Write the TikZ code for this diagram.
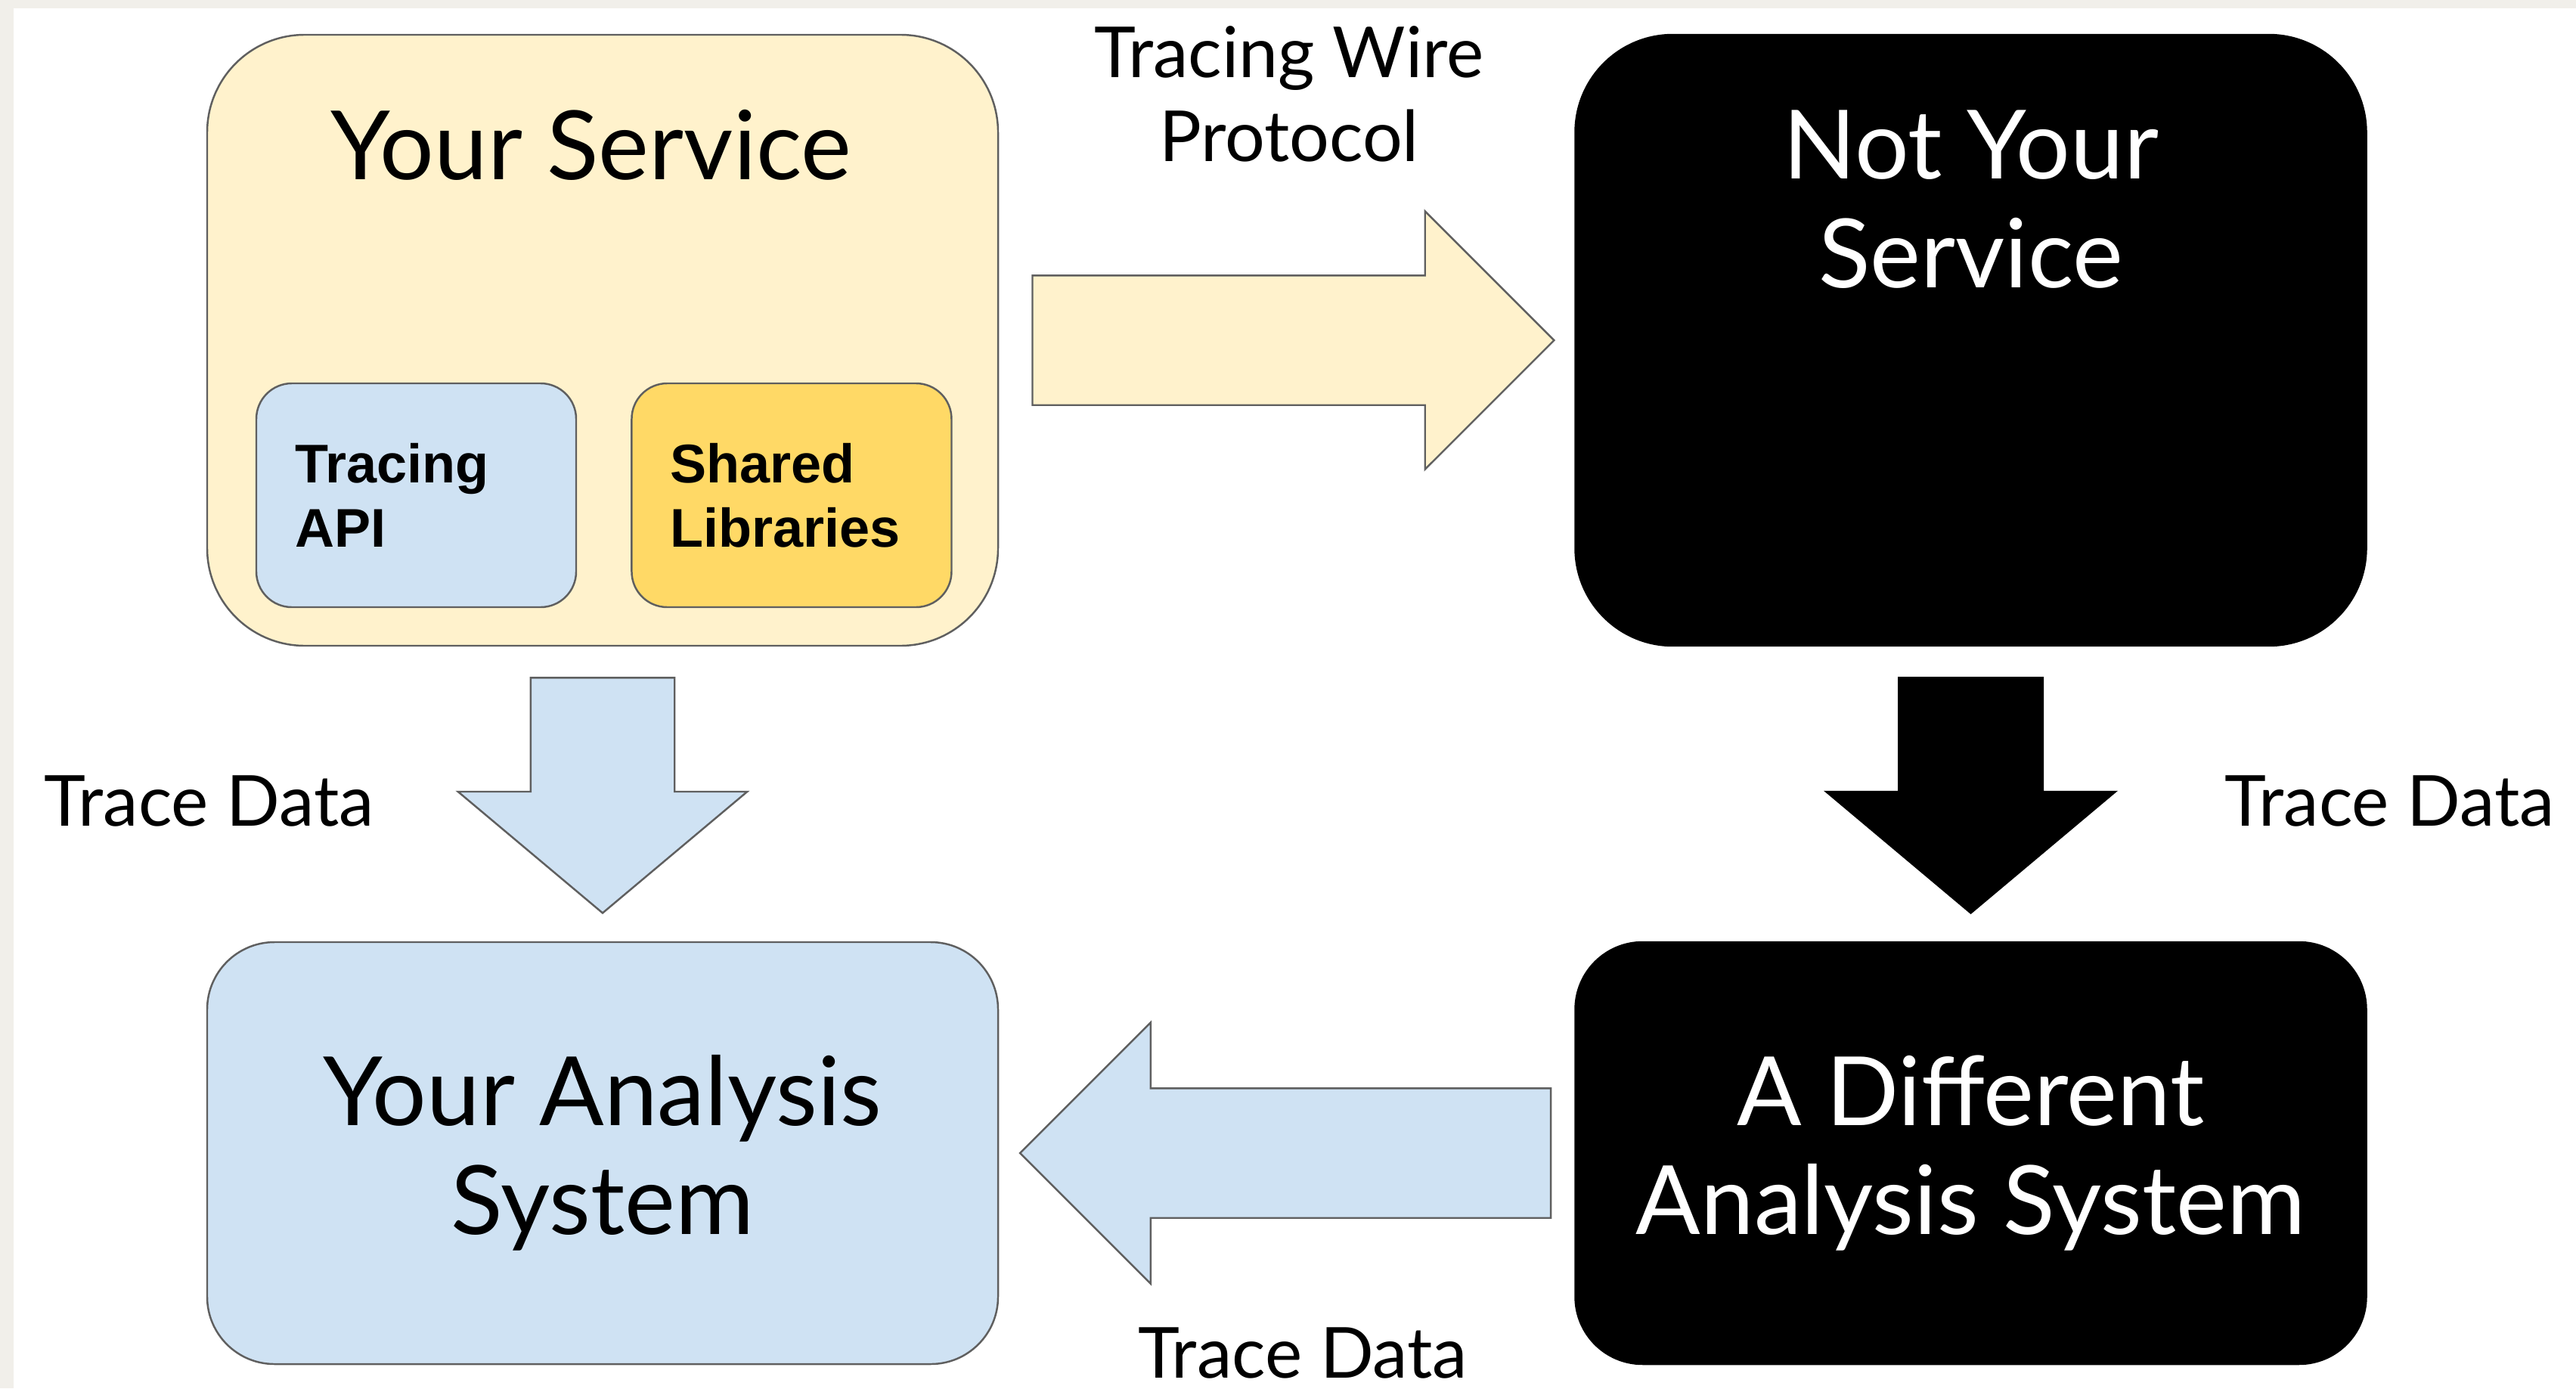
\documentclass[tikz,border=0pt]{standalone}
\usepackage{fontspec}
\setmainfont{Lato}
\newfontfamily\arialfont{Liberation Sans}
\usepackage{xcolor}
\usepackage{tikz}
\usetikzlibrary{shapes.arrows, positioning, calc}

\definecolor{cream}{HTML}{FFF2CC}
\definecolor{skyblue}{HTML}{CFE2F3}
\definecolor{gold}{HTML}{FFD966}
\definecolor{rim}{HTML}{5F5F5F}
\definecolor{paper}{HTML}{F1EFEA}

\begin{document}
\begin{tikzpicture}[node distance=1cm, auto]
    \tikzstyle{system} = [rectangle, draw=rim, line width=0.7pt, minimum width=10.46cm, inner sep=0pt, align=center, font=\fontsize{36}{41}\selectfont]
    \tikzstyle{upper} = [system, minimum height=8.08cm, rounded corners=1.29cm]
    \tikzstyle{lower} = [system, minimum height=5.58cm, rounded corners=0.89cm]
    \tikzstyle{heading} = [inner sep=0pt, align=center, font=\fontsize{36}{41}\selectfont]
    \tikzstyle{part} = [rectangle, draw=rim, line width=0.7pt, rounded corners=0.47cm, minimum height=2.96cm, inner xsep=0.51cm, inner ysep=0pt, text width=3.21cm, align=left, font=\arialfont\bfseries\fontsize{20.5}{24.2}\selectfont]
    \tikzstyle{bigarrow} = [single arrow, draw=rim, line width=0.7pt, single arrow tip angle=90, anchor=tail]
    \tikzstyle{note} = [inner sep=0pt, align=center, font=\fontsize{26.5}{31.6}\selectfont]

    \useasboundingbox (0,0) rectangle (34.07,-18.36);
    % page
    \fill[white] (0,0) rectangle (34.07,-18.36);
    \fill[paper] (0,0) rectangle (0.18,-18.36);
    \fill[paper] (0,0) rectangle (34.07,-0.11);

    % services and analysis systems
    \node [upper, fill=cream] (svc) at (7.97,-4.50) {};
    \node [upper, fill=black, draw=black] (other) at (26.065,-4.50) {};
    \node [lower, fill=skyblue] (mine) at (7.97,-15.25) {Your Analysis\\System};
    \node [lower, fill=black, draw=black, text=white] (theirs) at (26.065,-15.25) {A Different\\Analysis System};

    \node [heading, below=1.0cm of svc.north, xshift=-0.15cm] (svcname) {Your Service};
    \node [heading, text=white, below=1.0cm of other.north] (othername) {Not Your\\Service};

    \node [part, fill=skyblue] (api) at (5.505,-6.55) {Tracing\\API};
    \node [part, fill=gold, right=0.71cm of api] (libs) {Shared\\Libraries};

    % block arrows
    \node [bigarrow, fill=cream, inner sep=0.845cm, minimum height=6.90cm, minimum width=3.39cm, single arrow head extend=0.85cm] (wire) at ($(svc.east)+(0.43,0)$) {};
    \node [bigarrow, fill=skyblue, shape border rotate=270, inner sep=0.94cm, minimum height=3.11cm, minimum width=3.80cm, single arrow head extend=0.96cm, single arrow tip angle=100] (mydata) at ($(svc.south)+(0,-0.40)$) {};
    \node [bigarrow, fill=black, draw=black, shape border rotate=270, inner sep=0.94cm, minimum height=3.11cm, minimum width=3.80cm, single arrow head extend=0.96cm, single arrow tip angle=100] (theirdata) at ($(other.south)+(0,-0.40)$) {};
    \node [bigarrow, fill=skyblue, shape border rotate=180, inner sep=0.845cm, minimum height=7.02cm, minimum width=3.43cm, single arrow head extend=0.87cm] (back) at ($(theirs.west)+(-0.30,0)$) {};

    \node [note, anchor=north] (wirenote) at (17.05,-0.34) {Tracing Wire\\Protocol};
    \node [note, anchor=base west] (mynote) at (0.58,-10.92) {Trace Data};
    \node [note, anchor=base west] (theirnote) at (29.42,-10.92) {Trace Data};
    \node [note, anchor=base] (backnote) at (17.23,-18.22) {Trace Data};
\end{tikzpicture}
\end{document}
